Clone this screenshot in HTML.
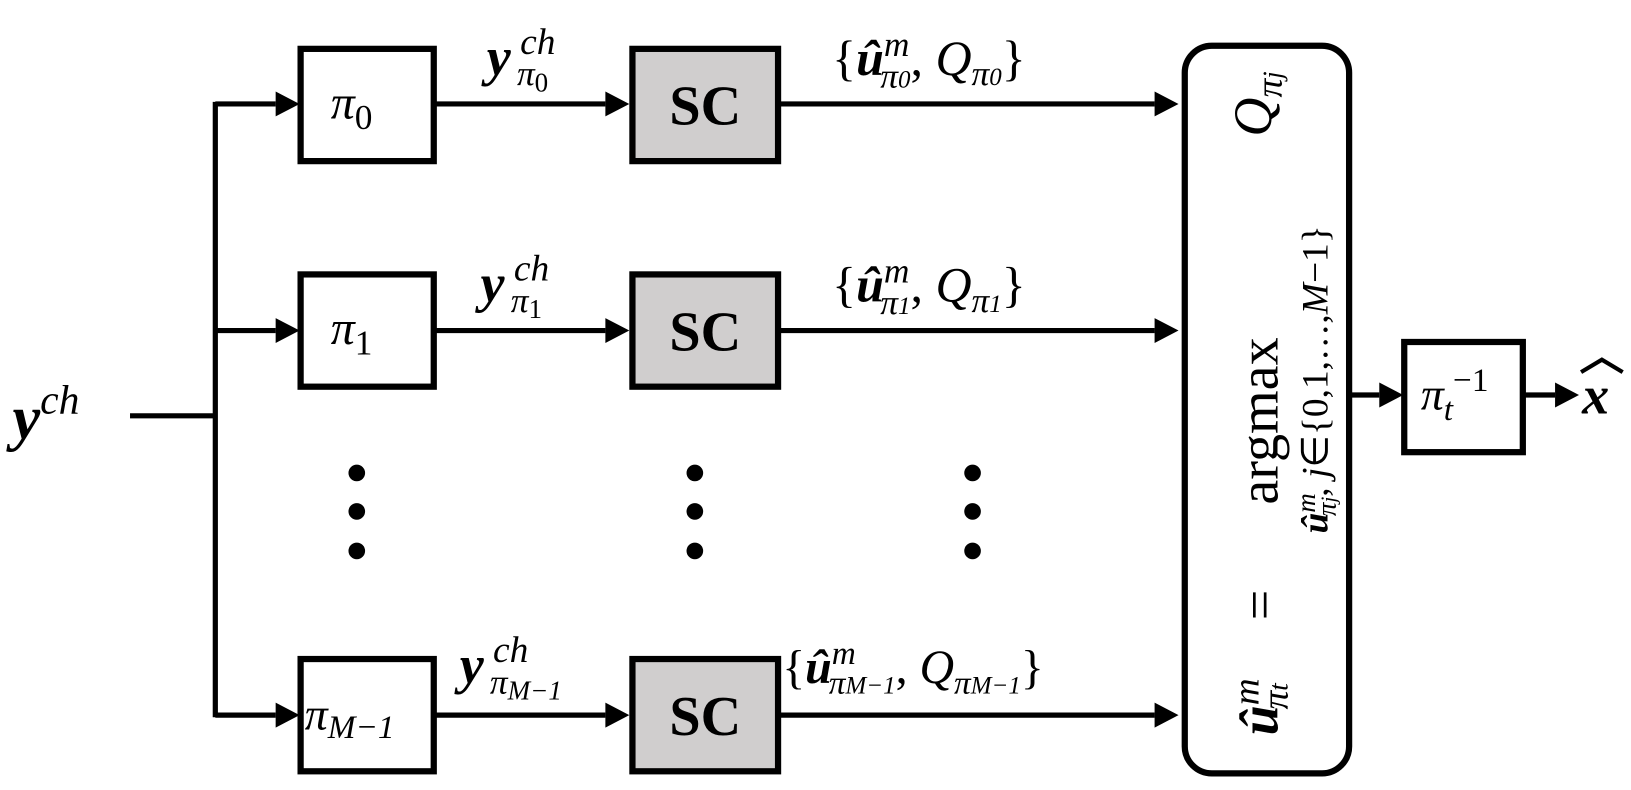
<!DOCTYPE html>
<html><head><meta charset="utf-8"><style>
html,body{margin:0;padding:0;background:#fff;}
svg{display:block}
text{font-family:"Liberation Serif",serif;fill:#000}
.it{font-style:italic;font-weight:bold}
</style></head><body>
<svg width="1631" height="790" viewBox="0 0 1568 760" preserveAspectRatio="none" xmlns="http://www.w3.org/2000/svg">
<g stroke="#000" stroke-width="5" fill="none">
<line x1="125" y1="400" x2="207" y2="400"/>
<line x1="207" y1="98" x2="207" y2="690"/>
</g>
<g fill="#000">
<path d="M207,100 H265" stroke="#000" stroke-width="5"/><path d="M265,88 L288,100 L265,112z"/>
<path d="M207,318 H265" stroke="#000" stroke-width="5"/><path d="M265,306 L288,318 L265,330z"/>
<path d="M207,688 H265" stroke="#000" stroke-width="5"/><path d="M265,676 L288,688 L265,700z"/>
<path d="M418,100 H582" stroke="#000" stroke-width="5"/><path d="M582,88 L605,100 L582,112z"/>
<path d="M418,318 H582" stroke="#000" stroke-width="5"/><path d="M582,306 L605,318 L582,330z"/>
<path d="M418,688 H582" stroke="#000" stroke-width="5"/><path d="M582,676 L605,688 L582,700z"/>
<path d="M750,100 H1110" stroke="#000" stroke-width="5"/><path d="M1110,88 L1133,100 L1110,112z"/>
<path d="M750,318 H1110" stroke="#000" stroke-width="5"/><path d="M1110,306 L1133,318 L1110,330z"/>
<path d="M750,688 H1110" stroke="#000" stroke-width="5"/><path d="M1110,676 L1133,688 L1110,700z"/>
<path d="M1298,380 H1326" stroke="#000" stroke-width="5"/><path d="M1326,368 L1349,380 L1326,392z"/>
<path d="M1465,380 H1495" stroke="#000" stroke-width="5"/><path d="M1495,368 L1518,380 L1495,392z"/>
<circle cx="343" cy="455" r="8"/><circle cx="343" cy="492" r="8"/><circle cx="343" cy="530" r="8"/>
<circle cx="668" cy="455" r="8"/><circle cx="668" cy="492" r="8"/><circle cx="668" cy="530" r="8"/>
<circle cx="935" cy="455" r="8"/><circle cx="935" cy="492" r="8"/><circle cx="935" cy="530" r="8"/>
</g>
<g stroke="#000" stroke-width="6" fill="#fff">
<rect x="289" y="47" width="128" height="108"/>
<rect x="289" y="264" width="128" height="108"/>
<rect x="289" y="634" width="128" height="108"/>
<rect x="608" y="47" width="140" height="108" fill="#d0cece"/>
<rect x="608" y="264" width="140" height="108" fill="#d0cece"/>
<rect x="608" y="634" width="140" height="108" fill="#d0cece"/>
<rect x="1139" y="44" width="158" height="700" rx="26"/>
<rect x="1350" y="329" width="114" height="106"/>
</g>
<text x="12" y="422" class="it" font-size="60">y<tspan font-size="40" dy="-24" font-weight="normal">ch</tspan></text>
<text x="318" y="114" font-size="46" font-style="italic">π<tspan font-size="34" dy="10" font-style="normal">0</tspan></text>
<text x="318" y="331" font-size="46" font-style="italic">π<tspan font-size="34" dy="10" font-style="normal">1</tspan></text>
<text x="293" y="702" font-size="44" font-style="italic">π<tspan font-size="32" dy="8">M−1</tspan></text>
<text x="678" y="120" font-size="54" font-weight="bold" text-anchor="middle">SC</text>
<text x="678" y="337" font-size="54" font-weight="bold" text-anchor="middle">SC</text>
<text x="678" y="707" font-size="54" font-weight="bold" text-anchor="middle">SC</text>
<text x="468" y="72" class="it" font-size="52">y</text><text x="500" y="52" font-size="36" font-style="italic">ch</text><text x="497" y="82" font-size="34" font-style="italic">π<tspan font-size="26" dy="6" font-style="normal">0</tspan></text>
<text x="462" y="290" class="it" font-size="52">y</text><text x="494" y="270" font-size="36" font-style="italic">ch</text><text x="491" y="300" font-size="34" font-style="italic">π<tspan font-size="26" dy="6" font-style="normal">1</tspan></text>
<text x="442" y="657" class="it" font-size="52">y</text><text x="474" y="637" font-size="36" font-style="italic">ch</text><text x="471" y="667" font-size="34" font-style="italic">π<tspan font-size="26" dy="6">M−1</tspan></text>
<text x="800" y="72" font-size="48">{<tspan class="it">û</tspan><tspan font-size="34" dy="-18" font-style="italic">m</tspan><tspan font-size="34" dx="-28" dy="30" font-style="italic">π<tspan font-size="24">0</tspan></tspan><tspan dy="-12">, </tspan><tspan font-style="italic">Q</tspan><tspan font-size="34" dy="10" font-style="italic">π<tspan font-size="24">0</tspan></tspan><tspan dy="-10">}</tspan></text>
<text x="800" y="290" font-size="48">{<tspan class="it">û</tspan><tspan font-size="34" dy="-18" font-style="italic">m</tspan><tspan font-size="34" dx="-28" dy="30" font-style="italic">π<tspan font-size="24">1</tspan></tspan><tspan dy="-12">, </tspan><tspan font-style="italic">Q</tspan><tspan font-size="34" dy="10" font-style="italic">π<tspan font-size="24">1</tspan></tspan><tspan dy="-10">}</tspan></text>
<text x="752" y="657" font-size="46">{<tspan class="it">û</tspan><tspan font-size="32" dy="-18" font-style="italic">m</tspan><tspan font-size="32" dx="-26" dy="28" font-style="italic">π<tspan font-size="24">M−1</tspan></tspan><tspan dy="-10">, </tspan><tspan font-style="italic">Q</tspan><tspan font-size="32" dy="10" font-style="italic">π<tspan font-size="24">M−1</tspan></tspan><tspan dy="-10">}</tspan></text>
<text transform="translate(1228,680) rotate(-90)" text-anchor="middle" font-size="52"><tspan class="it">û</tspan><tspan font-size="36" font-style="italic" dy="-18">m</tspan><tspan font-size="36" font-style="italic" dx="-30" dy="28">π<tspan font-size="26">t</tspan></tspan></text>
<text transform="translate(1228,582) rotate(-90)" text-anchor="middle" font-size="52">=</text>
<text transform="translate(1228,405) rotate(-90)" text-anchor="middle" font-size="54">argmax</text>
<text transform="translate(1222,100) rotate(-90)" text-anchor="middle" font-size="52"><tspan font-style="italic">Q</tspan><tspan font-size="36" font-style="italic" dy="10">π<tspan font-size="26">j</tspan></tspan></text>
<text transform="translate(1276,365) rotate(-90)" text-anchor="middle" font-size="36"><tspan class="it">û</tspan><tspan font-style="italic" font-size="26" dy="-12">m</tspan><tspan font-style="italic" font-size="26" dx="-22" dy="20">π<tspan font-size="20">j</tspan></tspan><tspan dy="-8">, </tspan><tspan font-style="italic">j</tspan>∈{0,1,…,<tspan font-style="italic">M</tspan>−1}</text>
<text x="1366" y="394" font-size="44" font-style="italic">π<tspan font-size="32" dy="10">t</tspan><tspan font-size="32" dy="-28" font-style="normal">−1</tspan></text>
<text x="1521" y="398" class="it" font-size="52">x</text>
<path d="M1520,358 L1540,346 L1560,358" stroke="#000" stroke-width="4" fill="none"/>
</svg>
</body></html>
